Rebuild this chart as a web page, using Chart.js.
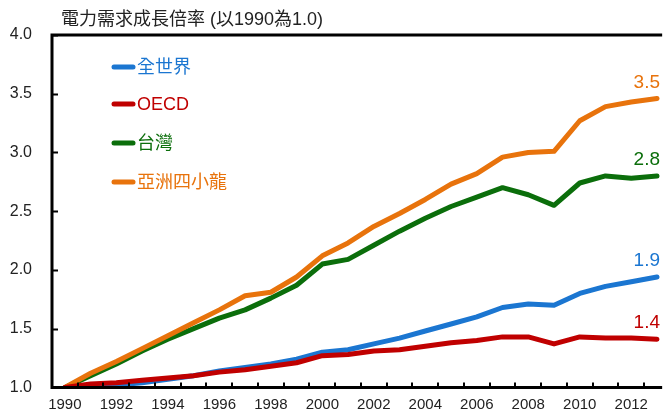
<!DOCTYPE html>
<html>
<head>
<meta charset="utf-8">
<script src="https://cdn.jsdelivr.net/npm/chart.js@4/dist/chart.umd.min.js"></script>
<style>
  body { margin: 0; background: #fff; }
  #chart { display: block; }
</style>
</head>
<body>
<canvas id="chart" width="665" height="417"></canvas>
<script>
const years = [1990, 1991, 1992, 1993, 1994, 1995, 1996, 1997, 1998, 1999, 2000, 2001,
  2002, 2003, 2004, 2005, 2006, 2007, 2008, 2009, 2010, 2011, 2012, 2013];

const world = [1.00, 1.01, 1.02, 1.04, 1.07, 1.10, 1.14, 1.17, 1.20, 1.24, 1.30, 1.32,
  1.37, 1.42, 1.48, 1.54, 1.60, 1.68, 1.71, 1.70, 1.80, 1.86, 1.90, 1.94];
const oecd = [1.00, 1.03, 1.04, 1.06, 1.08, 1.10, 1.13, 1.15, 1.18, 1.21, 1.27, 1.28,
  1.31, 1.32, 1.35, 1.38, 1.40, 1.43, 1.43, 1.37, 1.43, 1.42, 1.42, 1.41];
const taiwan = [1.00, 1.10, 1.20, 1.31, 1.41, 1.50, 1.59, 1.66, 1.76, 1.87, 2.05, 2.09,
  2.21, 2.33, 2.44, 2.54, 2.62, 2.70, 2.64, 2.55, 2.74, 2.80, 2.78, 2.80];
const tigers = [1.00, 1.12, 1.22, 1.33, 1.44, 1.55, 1.66, 1.78, 1.81, 1.94, 2.12, 2.23,
  2.37, 2.48, 2.60, 2.73, 2.82, 2.96, 3.00, 3.01, 3.27, 3.39, 3.43, 3.46];

const seriesNames = ['全世界', 'OECD', '台灣', '亞洲四小龍'];
const endLabels = ['1.9', '1.4', '2.8', '3.5'];
const yTicks = [1.0, 1.5, 2.0, 2.5, 3.0, 3.5, 4.0];
const titleText = '電力需求成長倍率 (以1990為1.0)';

const colors = ['#1b76d1', '#c00000', '#0b6e0b', '#e8730c'];
const drawOrder = [2, 0, 3, 1];
const allSeries = [world, oecd, taiwan, tigers];

const numFont = "'Liberation Sans', Arial, sans-serif";
const cjkFont = "'Liberation Sans', 'Noto Sans CJK TC', sans-serif";

function toPoints(vals) {
  return vals.map((v, i) => ({ x: years[i], y: v }));
}

// frame, inward tick marks, title, legend and end labels
const decorations = {
  id: 'decorations',
  afterDatasetsDraw(chart) {
    const ctx = chart.ctx;
    const a = chart.chartArea;
    const xs = chart.scales.x;
    const ys = chart.scales.y;
    ctx.save();

    // ticks
    ctx.strokeStyle = '#000';
    ctx.lineWidth = 2;
    ctx.beginPath();
    yTicks.forEach(t => {
      const py = Math.round(ys.getPixelForValue(t)) + 0.5;
      ctx.moveTo(a.left, py);
      ctx.lineTo(a.left + 6, py);
    });
    years.forEach(yr => {
      const px = Math.round(xs.getPixelForValue(yr + 0.5));
      ctx.moveTo(px, a.bottom);
      ctx.lineTo(px, a.bottom - 5);
    });
    ctx.stroke();

    // frame
    ctx.lineWidth = 3;
    ctx.beginPath();
    ctx.moveTo(a.right, a.top);
    ctx.lineTo(a.left, a.top);
    ctx.lineTo(a.left, a.bottom);
    ctx.lineTo(a.right, a.bottom);
    ctx.stroke();

    // title
    ctx.fillStyle = '#222';
    ctx.font = "18px " + cjkFont;
    ctx.textAlign = 'left';
    ctx.textBaseline = 'middle';
    ctx.fillText(titleText, 61, 20);

    // legend
    const legendY = [67, 104, 143, 182];
    seriesNames.forEach((name, i) => {
      ctx.strokeStyle = colors[i];
      ctx.lineWidth = 5;
      ctx.lineCap = 'round';
      ctx.beginPath();
      ctx.moveTo(114, legendY[i]);
      ctx.lineTo(133, legendY[i]);
      ctx.stroke();
      ctx.fillStyle = colors[i];
      ctx.font = "18px " + cjkFont;
      ctx.fillText(name, 137, legendY[i] + 1);
    });

    // end labels
    ctx.textAlign = 'right';
    ctx.font = "19px " + numFont;
    allSeries.forEach((vals, i) => {
      const py = ys.getPixelForValue(vals[vals.length - 1]);
      ctx.fillStyle = colors[i];
      ctx.fillText(endLabels[i], 660, py - 16);
    });
    ctx.restore();
  }
};

new Chart(document.getElementById('chart'), {
  type: 'line',
  data: {
    datasets: allSeries.map((vals, i) => ({
      label: seriesNames[i],
      data: toPoints(vals),
      borderColor: colors[i],
      borderWidth: 5,
      pointRadius: 0,
      tension: 0,
      order: drawOrder[i],
      borderJoinStyle: 'round',
      borderCapStyle: 'round'
    }))
  },
  options: {
    responsive: false,
    animation: false,
    layout: { padding: { top: 35, right: 0, left: 0, bottom: 0 } },
    plugins: {
      legend: { display: false },
      tooltip: { enabled: false }
    },
    scales: {
      x: {
        type: 'linear',
        min: 1989.5,
        max: 2013.2,
        afterBuildTicks(scale) {
          scale.ticks = years.map(v => ({ value: v }));
        },
        afterFit(scale) { scale.height = 25; },
        grid: { display: false, drawTicks: false },
        border: { display: false },
        ticks: {
          autoSkip: false,
          maxRotation: 0,
          padding: 8,
          color: '#222',
          font: { family: numFont, size: 15 },
          callback: v => (v % 2 === 0 ? String(v) : '')
        }
      },
      y: {
        min: 1,
        max: 4,
        afterBuildTicks(scale) {
          scale.ticks = yTicks.map(v => ({ value: v }));
        },
        afterFit(scale) { scale.width = 52; },
        grid: { display: false, drawTicks: false },
        border: { display: false },
        ticks: {
          padding: 20,
          color: '#222',
          font: { family: numFont, size: 16 },
          callback: v => v.toFixed(1)
        }
      }
    }
  },
  plugins: [decorations]
});
</script>
</body>
</html>
